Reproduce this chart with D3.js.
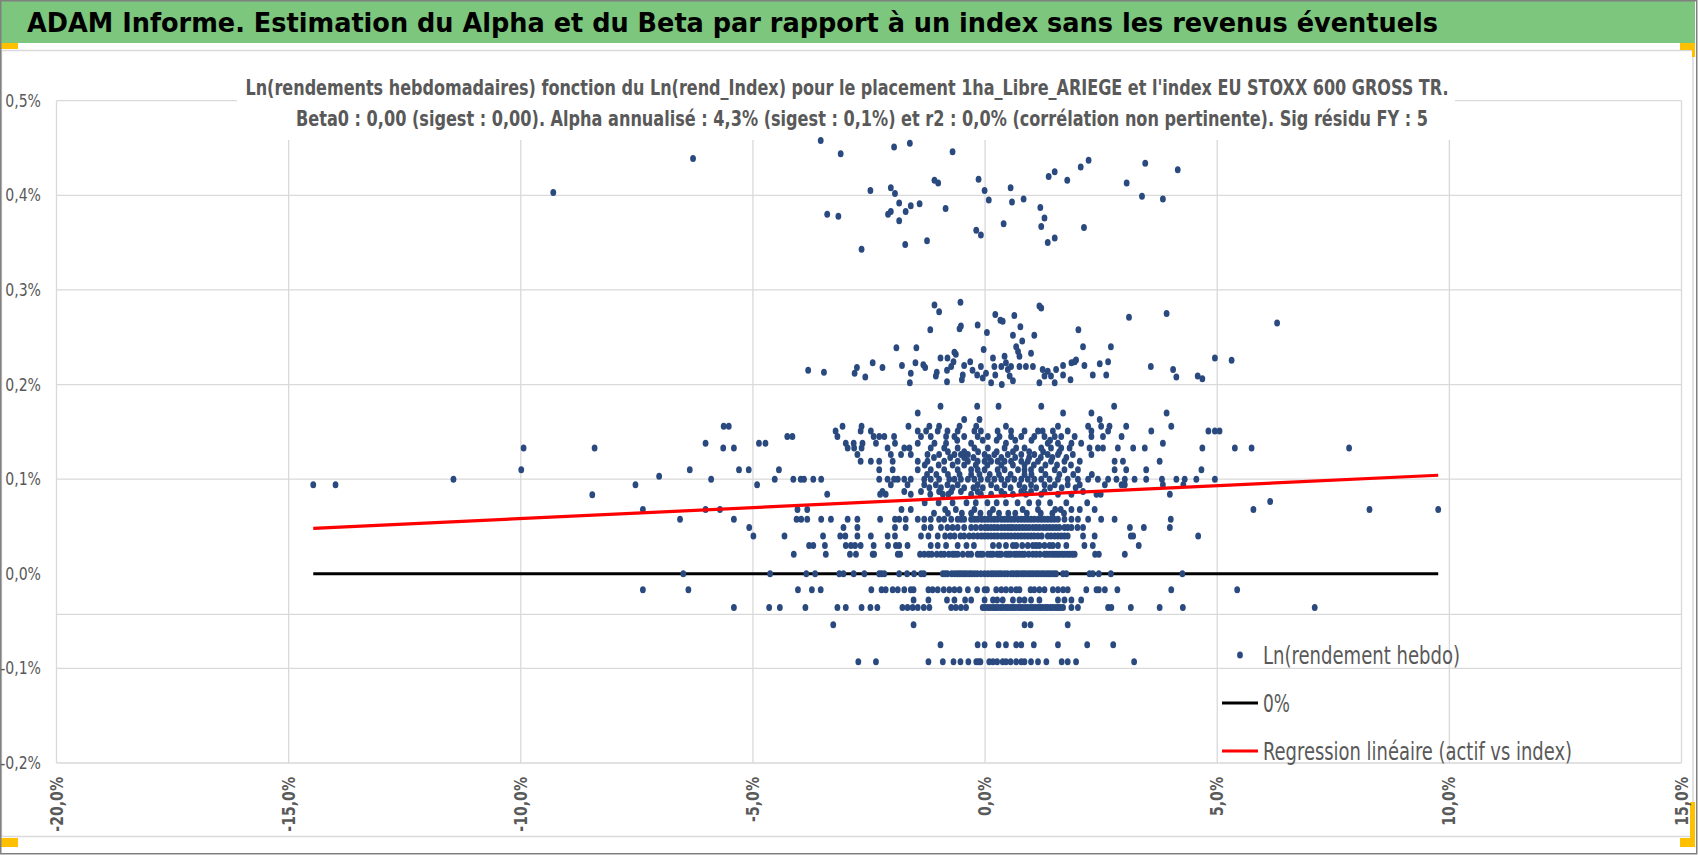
<!DOCTYPE html>
<html>
<head>
<meta charset="utf-8">
<script src="https://cdn.jsdelivr.net/npm/d3@7"></script>
<style>
  html, body { margin: 0; padding: 0; background: #fff; }
  svg { display: block; }
</style>
</head>
<body>
<div id="chart"></div>
<script>
//////////DATA//////////
const headerTitle = "ADAM Informe. Estimation du Alpha et du Beta par rapport à un index sans les revenus éventuels";
const chartTitle = [
  "Ln(rendements hebdomadaires) fonction du Ln(rend_Index) pour le placement 1ha_Libre_ARIEGE et l'index EU STOXX 600 GROSS TR.",
  "Beta0 : 0,00 (sigest : 0,00). Alpha annualisé : 4,3% (sigest : 0,1%) et r2 : 0,0% (corrélation non pertinente). Sig résidu FY : 5"
];
const legendLabels = ["Ln(rendement hebdo)", "0%", "Regression linéaire (actif vs index)"];

const xTicks = [-20, -15, -10, -5, 0, 5, 10, 15];           // % rend index
const yTicks = [-0.2, -0.1, 0, 0.1, 0.2, 0.3, 0.4, 0.5];     // % rend hebdo
const xAxisCross = -0.043;                                   // horizontal axis line

// regression (actif vs index), % units
const regAlpha = 0.0815;
const regBeta = 0.00232;

// weekly returns sit on discrete levels : level value (%) + index returns (%) on it
const bandLevels = [0, 0.0206, -0.017, -0.0276, -0.0357, -0.054, -0.075, -0.093,
  0.030, 0.040, 0.049, 0.0575, 0.068, 0.084, 0.087, 0.094, 0.100, 0.110, 0.119,
  0.126, 0.133, 0.138, 0.145, 0.151, 0.156, 0.163, 0.170, 0.177,
  0.064, 0.075, 0.091, 0.105, 0.115, 0.123, 0.129, 0.141];
const bandIndex = [
  [-6.50, -4.63, -3.85, -3.66, -3.14, -3.05, -2.83, -2.60, -2.28, -2.23, -2.17, -1.85, -1.68, -1.53, -1.38, -1.32, -0.91, -0.86, -0.81, -0.72, -0.66, -0.60, -0.55, -0.50, -0.45, -0.40, -0.34, -0.29, -0.23, -0.17, -0.09, -0.01, 0.06, 0.13, 0.18, 0.24, 0.30, 0.35, 0.42, 0.48, 0.56, 0.61, 0.67, 0.72, 0.78, 0.83, 0.88, 0.94, 0.99, 1.04, 1.10, 1.15, 1.21, 1.26, 1.32, 1.37, 1.42, 1.48, 1.53, 1.68, 1.75, 2.25, 2.32, 2.45, 2.71, 4.25],
  [-4.12, -3.43, -2.91, -2.78, -2.42, -2.39, -1.88, -1.83, -1.40, -1.31, -1.22, -1.15, -1.04, -0.95, -0.88, -0.78, -0.70, -0.65, -0.59, -0.48, -0.37, -0.30, -0.16, -0.10, -0.05, 0.06, 0.12, 0.17, 0.26, 0.31, 0.35, 0.45, 0.50, 0.55, 0.63, 0.68, 0.74, 0.80, 0.85, 0.94, 1.03, 1.10, 1.18, 1.28, 1.33, 1.39, 1.45, 1.50, 1.55, 1.60, 1.66, 1.71, 1.77, 1.82, 1.88, 1.93, 2.37, 2.45, 3.01],
  [-7.37, -6.39, -4.03, -3.73, -3.54, -2.45, -2.23, -2.14, -1.99, -1.88, -1.74, -1.60, -1.54, -1.22, -1.13, -1.02, -0.89, -0.77, -0.66, -0.55, -0.37, -0.17, -0.01, 0.04, 0.24, 0.35, 0.45, 0.56, 0.67, 0.74, 0.98, 1.06, 1.17, 1.28, 1.46, 1.57, 1.68, 1.78, 2.18, 2.40, 2.45, 2.58, 2.85, 4.01, 5.43],
  [-1.54, -1.22, -0.82, -0.66, -0.43, -0.30, -0.01, 0.17, 0.26, 0.38, 0.60, 0.74, 0.85, 0.99, 1.17, 1.57, 1.71, 1.86, 2.07],
  [-5.41, -4.65, -4.42, -3.87, -3.18, -3.00, -2.66, -2.47, -2.32, -1.78, -1.67, -1.56, -1.45, -1.32, -1.20, -0.73, -0.63, -0.52, -0.41, -0.05, 0.00, 0.06, 0.11, 0.17, 0.22, 0.27, 0.33, 0.38, 0.44, 0.49, 0.55, 0.60, 0.65, 0.71, 0.76, 0.81, 0.87, 0.92, 0.98, 1.03, 1.08, 1.14, 1.19, 1.24, 1.30, 1.35, 1.41, 1.46, 1.52, 1.57, 1.62, 1.68, 1.86, 2.00, 2.65, 2.72, 3.14, 3.76, 4.26, 7.10],
  [-3.27, -1.54, 0.85, 0.98, 1.78],
  [-0.96, -0.16, -0.01, 0.29, 0.45, 0.67, 0.78, 1.05, 1.57, 2.20, 2.76],
  [-2.73, -2.35, -1.22, -0.91, -0.68, -0.53, -0.36, -0.19, -0.14, -0.10, 0.09, 0.17, 0.26, 0.38, 0.45, 0.55, 0.67, 0.78, 0.85, 0.99, 1.14, 1.32, 1.65, 1.78, 1.96, 3.21],
  [-3.79, -3.70, -3.45, -3.00, -2.89, -2.80, -2.68, -2.40, -2.09, -1.92, -1.85, -1.67, -1.17, -1.02, -0.84, -0.59, -0.40, -0.24, 0.17, 0.30, 0.45, 0.60, 0.67, 0.80, 0.92, 1.03, 1.10, 1.17, 1.28, 1.39, 1.46, 1.57, 1.75, 2.14, 2.32, 3.31],
  [-4.99, -4.32, -3.49, -3.12, -3.01, -2.75, -2.46, -2.10, -1.94, -1.38, -1.22, -1.02, -0.86, -0.75, -0.66, -0.53, -0.45, -0.34, -0.25, -0.16, -0.08, -0.01, 0.06, 0.13, 0.20, 0.27, 0.35, 0.42, 0.49, 0.56, 0.64, 0.71, 0.78, 0.85, 0.92, 0.99, 1.06, 1.14, 1.22, 1.35, 1.42, 1.50, 1.57, 1.64, 1.71, 1.78, 2.11, 2.36, 3.14, 3.19, 4.59],
  [-5.08, -3.05, -2.75, -1.94, -1.71, -1.31, -1.17, -0.95, -0.81, -0.70, -0.59, -0.45, -0.30, -0.20, -0.09, 0.00, 0.06, 0.13, 0.20, 0.27, 0.35, 0.42, 0.49, 0.55, 0.60, 0.67, 0.74, 0.81, 0.88, 0.95, 1.03, 1.10, 1.17, 1.25, 1.32, 1.39, 1.46, 1.53, 1.60, 1.71, 1.78, 1.86, 1.99, 2.11, 3.12, 3.42, 3.98],
  [-6.57, -5.41, -4.06, -3.96, -3.83, -3.53, -3.32, -2.96, -2.75, -2.26, -1.94, -1.85, -1.71, -1.45, -1.31, -1.17, -0.99, -0.88, -0.73, -0.59, -0.52, -0.45, -0.30, -0.23, -0.16, -0.08, -0.01, 0.06, 0.13, 0.20, 0.27, 0.35, 0.42, 0.49, 0.56, 0.63, 0.71, 0.78, 0.85, 0.92, 0.99, 1.06, 1.14, 1.21, 1.28, 1.35, 1.42, 1.49, 1.57, 1.71, 1.86, 2.00, 2.22, 2.50, 2.79, 4.00],
  [-7.37, -6.02, -5.71, -4.04, -3.83, -1.80, -1.60, -0.86, -0.63, -0.23, 0.17, 0.81, 1.14, 1.51, 1.63, 1.86, 2.04, 2.36, 5.78, 8.28, 9.76],
  [-3.40, -2.26, -2.14, -1.60, -1.18, -0.91, -0.79, -0.30, -0.09, 0.13, 0.42, 0.60, 0.88, 1.21, 1.57, 1.86, 2.40, 2.49, 3.98],
  [-2.21, -1.74, -1.38, -0.99, -0.73, -0.52, -0.16, 0.35, 0.78, 0.99, 1.28, 2.11],
  [-14.47, -13.99, -7.53, -4.91, -2.03, -1.67, -1.31, -1.06, -0.81, -0.59, -0.16, 0.13, 0.42, 0.74, 0.99, 1.28, 1.50, 1.78, 2.04, 2.58, 2.94, 3.01, 3.83, 4.27],
  [-11.45, -5.90, -4.53, -4.13, -3.97, -3.90, -3.70, -3.53, -2.28, -2.10, -1.96, -1.88, -1.74, -1.60, -1.31, -1.17, -0.99, -0.77, -0.66, -0.52, -0.37, -0.23, -0.09, 0.06, 0.20, 0.35, 0.49, 0.63, 0.78, 0.92, 1.06, 1.21, 1.39, 1.57, 1.78, 2.00, 2.22, 2.43, 2.65, 2.83, 3.01, 3.22, 3.47, 3.81, 4.12, 4.30, 4.55, 4.95],
  [-9.99, -6.36, -5.30, -5.09, -4.44, -2.28, -1.99, -1.45, -1.17, -0.88, -0.59, -0.30, -0.16, -0.01, 0.27, 0.42, 0.71, 0.85, 0.99, 1.21, 1.50, 1.71, 2.00, 2.79, 3.04, 3.47, 4.66],
  [-2.68, -2.46, -2.28, -1.99, -1.45, -1.24, -0.88, -0.59, -0.37, -0.16, -0.01, 0.13, 0.27, 0.42, 0.56, 0.78, 0.92, 1.14, 1.42, 1.71, 2.04, 2.79, 2.97, 3.76],
  [-2.75, -2.03, -1.81, -1.60, -1.24, -0.99, -0.66, -0.52, -0.37, -0.01, 0.20, 0.49, 0.78, 1.06, 1.35, 1.57, 1.89, 2.29],
  [-9.94, -8.41, -5.64, -5.41, -2.96, -2.82, -2.66, -2.10, -1.74, -1.63, -1.17, -0.88, -0.59, -0.23, 0.06, 0.42, 0.67, 0.85, 1.21, 1.42, 1.64, 1.82, 2.25, 2.43, 2.54, 2.86, 3.19, 3.44, 4.68, 5.38, 5.74, 7.84],
  [-6.02, -4.87, -4.73, -3.00, -2.83, -2.64, -2.35, -1.94, -1.45, -1.09, -0.84, -0.30, 0.45, 1.35, 1.57, 1.86, 2.07, 3.83],
  [-4.26, -4.15, -3.18, -2.40, -2.28, -2.17, -1.96, -1.38, -1.17, -0.84, -0.66, -0.45, -0.16, 0.06, 0.31, 0.56, 0.78, 1.06, 1.28, 1.50, 1.64, 1.93, 2.29, 2.54, 2.94],
  [-3.22, -2.68, -2.46, -1.45, -1.27, -1.02, -0.81, -0.59, -0.23, -0.09, 0.27, 0.56, 0.85, 1.14, 1.24, 1.46, 1.78, 2.29, 2.65, 3.58, 4.81, 4.95, 5.05],
  [-5.63, -5.52, -3.07, -2.66, -1.65, -1.20, -0.99, -0.55, -0.19, 0.45, 1.57, 2.22, 2.50, 2.68, 3.04, 4.01],
  [-0.45, -0.12, 2.47],
  [-1.45, 1.68, 2.29, 3.91],
  [-0.96, -0.17, 0.29, 1.21, 2.78],
  [-1.10, -0.80, -0.50, -0.30, -0.10, 0.10, 0.30, 0.50, 0.65, 0.90, 1.20, 1.45, 1.70],
  [-1.30, -1.00, -0.70, -0.40, -0.20, 0.05, 0.25, 0.45, 0.70, 0.95, 1.15, 1.40, 1.75, 2.20],
  [-1.20, -0.95, -0.70, -0.45, -0.25, -0.05, 0.25, 0.55, 0.85, 1.10, 1.40, 1.65, 1.95],
  [-1.25, -1.05, -0.80, -0.55, -0.30, -0.12, 0.10, 0.30, 0.55, 0.85, 1.00, 1.30, 1.60, 1.90, 2.30],
  [-1.30, -1.00, -0.70, -0.45, -0.20, 0.05, 0.35, 0.60, 0.85, 1.05, 1.30, 1.55, 1.85],
  [-1.10, -0.75, -0.45, -0.25, 0.08, 0.35, 0.65, 0.95, 1.20, 1.45, 1.75],
  [-0.80, -0.45, -0.15, 0.25, 0.60, 0.95, 1.25, 1.60],
  [-0.60, -0.05, 0.25, 0.65, 1.00, 1.40]
];

// off-level weeks : index return (%) and asset return (%)
const freeIndex = [-8.46, -7.02, 6.14, 6.29, 4.95, 5.31, -9.30,
  -6.29, -3.54, -3.11, -1.96, -1.62, -0.70, 2.23, 2.06, 3.45, 4.15, 1.50, 1.37, 1.77, -0.14, -1.09, -1.01, 3.05, 3.38, 3.83,
  -2.47, -2.03, -1.94, -0.01, 0.55, 0.08, 0.58, 0.83, -1.85, -1.60, -1.41, -1.71, -2.03, -2.09, -0.85, 1.19, 1.28, 1.21,
  -3.40, -3.16, -1.85, 0.40, 2.13, -0.19, -0.09, -1.72, -1.25, 1.50, 1.35, -2.66,
  -1.09, -0.99, -0.53, 0.22, 0.33, 0.38, 0.63, 1.17, 1.21, 3.10, 3.91, -1.18, -0.55, -0.52, -0.16, 0.04, 0.76, 0.60, 0.80, 1.06, 2.01,
  -1.91, -1.48, -0.66, -0.63, -0.03, 0.67, 0.71, 0.99, 2.11, 2.71, 0.74,
  -3.81, -3.47, -2.76, -2.81, -2.58, -2.42, -2.21, -1.79, -1.60, -1.62, -1.50, -1.33, -1.29, -1.04, -1.06, -0.96, -0.81, -0.82, -0.82,
  -0.73, -0.68, -0.48, -0.50, -0.45, -0.32, -0.27, -0.17, -0.09, -0.05, 0.02, 0.13, 0.17, 0.20, 0.22, 0.35, 0.36, 0.42, 0.45, 0.49,
  0.53, 0.56, 0.60, 0.74, 0.88, 1.03, 1.17, 1.24, 1.28, 1.35, 1.42, 1.50, 1.53, 1.68, 1.68, 1.86, 1.93, 1.96, 1.84, 2.14, 2.32,
  2.47, 2.61, 2.65, 3.57, 4.05, 4.12, 4.58, 4.68];
const freeAsset = [0.0835, 0.103, 0.0765, 0.265, 0.228, 0.2256, 0.403,
  0.439, 0.458, 0.444, 0.451, 0.455, 0.446, 0.437, 0.430, 0.434, 0.427, 0.425, 0.420, 0.416, 0.417, 0.416, 0.413, 0.413, 0.399, 0.396,
  0.405, 0.408, 0.402, 0.405, 0.408, 0.395, 0.393, 0.396, 0.392, 0.389, 0.391, 0.383, 0.383, 0.380, 0.386, 0.387, 0.376, 0.367,
  0.380, 0.378, 0.373, 0.370, 0.366, 0.363, 0.358, 0.348, 0.352, 0.355, 0.350, 0.343,
  0.284, 0.277, 0.287, 0.274, 0.268, 0.267, 0.273, 0.283, 0.281, 0.271, 0.275, 0.258, 0.259, 0.262, 0.263, 0.255, 0.261, 0.252, 0.246, 0.252, 0.258,
  0.239, 0.239, 0.234, 0.232, 0.237, 0.240, 0.235, 0.233, 0.240, 0.240, 0.230,
  0.215, 0.213, 0.218, 0.212, 0.208, 0.223, 0.218, 0.220, 0.212, 0.202, 0.223, 0.221, 0.218, 0.213, 0.209, 0.228, 0.228, 0.215, 0.203,
  0.219, 0.224, 0.210, 0.205, 0.220, 0.224, 0.215, 0.210, 0.219, 0.207, 0.212, 0.202, 0.228, 0.219, 0.210, 0.219, 0.200, 0.230, 0.223, 0.216,
  0.209, 0.219, 0.204, 0.219, 0.219, 0.219, 0.202, 0.216, 0.209, 0.214, 0.209, 0.202, 0.216, 0.220, 0.210, 0.223, 0.224, 0.226, 0.205, 0.220, 0.210,
  0.222, 0.210, 0.224, 0.219, 0.216, 0.208, 0.209, 0.206];

//////////CODE//////////
const svgObj = { width: 1698, height: 855 };
const font = "'Liberation Sans Narrow', 'DejaVu Sans Condensed', 'Arial Narrow', sans-serif";
const textGrey = "#595959";
const gridGrey = "#d9d9d9";
const dotColor = "#2a4a7f";

const plot = { left: 56.5, right: 1681.5, top: 100.7, bottom: 763 };

const points = [];
bandLevels.forEach((lvl, i) => {
  bandIndex[i].forEach((x) => points.push([x, lvl]));
});
freeIndex.forEach((x, i) => points.push([x, freeAsset[i]]));

const xScale = d3.scaleLinear().domain([xTicks[0], xTicks[xTicks.length - 1]]).range([plot.left, plot.right]);
const yScale = d3.scaleLinear().domain([yTicks[0], yTicks[yTicks.length - 1]]).range([plot.bottom, plot.top]);
const pct = (v) => v.toFixed(1).replace(".", ",").replace("-0,0", "0,0") + "%";

// squeeze text to a width (the original font is much narrower than the fallback)
const fitWidth = (sel, w) => sel.attr("textLength", w).attr("lengthAdjust", "spacingAndGlyphs");
const squeeze = (sel, k) => sel.each(function () {
  d3.select(this)
    .attr("textLength", this.getComputedTextLength() * k)
    .attr("lengthAdjust", "spacingAndGlyphs");
});

const svg = d3.select("#chart").append("svg")
  .attr("width", svgObj.width)
  .attr("height", svgObj.height)
  .style("font-family", font);

// header band
svg.append("rect").attr("x", 1).attr("y", 1).attr("width", 1694).attr("height", 42).attr("fill", "#7dc67d");
svg.append("text")
  .attr("x", 27).attr("y", 32)
  .attr("font-size", 26).attr("font-weight", "bold").attr("fill", "#000")
  .text(headerTitle)
  .call(fitWidth, 1411);

// chart area border
svg.append("rect").attr("x", 1.5).attr("y", 50.5).attr("width", 1691.5).attr("height", 786)
  .attr("fill", "none").attr("stroke", gridGrey).attr("stroke-width", 1.5);

// yellow corner marks
const marks = [[1, 43, 17, 6], [1680, 43, 15, 7], [1692, 43, 3, 14], [1, 838, 17, 9], [1690, 802, 5, 45], [1680, 838, 15, 9]];
marks.forEach((m) => {
  svg.append("rect").attr("x", m[0]).attr("y", m[1]).attr("width", m[2]).attr("height", m[3]).attr("fill", "#ffc000");
});

// outer frame
svg.append("rect").attr("x", 0.75).attr("y", 0.75).attr("width", 1696).attr("height", 853)
  .attr("fill", "none").attr("stroke", "#808080").attr("stroke-width", 1.5);

// grid
const grid = svg.append("g").attr("stroke", gridGrey).attr("stroke-width", 1.3);
xTicks.forEach((t) => {
  grid.append("line").attr("x1", xScale(t)).attr("x2", xScale(t)).attr("y1", plot.top).attr("y2", plot.bottom);
});
yTicks.filter((t) => t !== 0).forEach((t) => {
  grid.append("line").attr("x1", plot.left).attr("x2", plot.right).attr("y1", yScale(t)).attr("y2", yScale(t));
});
grid.append("line").attr("x1", plot.left).attr("x2", plot.right)
  .attr("y1", yScale(xAxisCross)).attr("y2", yScale(xAxisCross));

// axis labels
svg.append("g").selectAll("text").data(yTicks).join("text")
  .attr("x", 41).attr("y", (d) => yScale(d))
  .attr("text-anchor", "end").attr("dominant-baseline", "central")
  .attr("font-size", 17).attr("fill", textGrey)
  .text((d) => pct(d))
  .call(squeeze, 0.92);

svg.append("g").selectAll("text").data(xTicks).join("text")
  .attr("transform", (d) => `translate(${xScale(d)}, 777) rotate(-90)`)
  .attr("text-anchor", "end").attr("dominant-baseline", "central")
  .attr("font-size", 17).attr("font-weight", "bold").attr("fill", textGrey)
  .text((d) => pct(d))
  .call(squeeze, 0.92);

// chart title (white box over the grid)
svg.append("rect").attr("x", 237).attr("y", 56).attr("width", 1218).attr("height", 84).attr("fill", "#fff");
const titleCenters = [847, 862];
const titleWidths = [1203, 1132];
chartTitle.forEach((line, i) => {
  svg.append("text")
    .attr("x", titleCenters[i]).attr("y", 95 + i * 31)
    .attr("text-anchor", "middle")
    .attr("font-size", 21).attr("font-weight", "bold").attr("fill", textGrey)
    .text(line)
    .call(fitWidth, titleWidths[i]);
});

// series
const xExtent = d3.extent(points, (d) => d[0]);

svg.append("line")
  .attr("x1", xScale(xExtent[0])).attr("x2", xScale(xExtent[1]))
  .attr("y1", yScale(0)).attr("y2", yScale(0))
  .attr("stroke", "#000").attr("stroke-width", 3.2);

svg.append("g").selectAll("ellipse").data(points).join("ellipse")
  .attr("cx", (d) => xScale(d[0])).attr("cy", (d) => yScale(d[1]))
  .attr("rx", 2.9).attr("ry", 3.5)
  .attr("fill", dotColor);

svg.append("line")
  .attr("x1", xScale(xExtent[0])).attr("x2", xScale(xExtent[1]))
  .attr("y1", yScale(regAlpha + regBeta * xExtent[0])).attr("y2", yScale(regAlpha + regBeta * xExtent[1]))
  .attr("stroke", "#ff0000").attr("stroke-width", 3.2);

// legend
const legend = svg.append("g").attr("transform", "translate(1222, 655)");
legend.append("ellipse").attr("cx", 18).attr("cy", 0).attr("rx", 2.9).attr("ry", 3.5).attr("fill", dotColor);
legend.append("line").attr("x1", 0).attr("x2", 36).attr("y1", 48).attr("y2", 48).attr("stroke", "#000").attr("stroke-width", 3.2);
legend.append("line").attr("x1", 0).attr("x2", 36).attr("y1", 96).attr("y2", 96).attr("stroke", "#ff0000").attr("stroke-width", 3.2);
const legendWidths = [197, 27, 309];
legendLabels.forEach((lbl, i) => {
  legend.append("text")
    .attr("x", 41).attr("y", i * 48)
    .attr("dominant-baseline", "central")
    .attr("font-size", 25).attr("fill", textGrey)
    .text(lbl)
    .call(fitWidth, legendWidths[i]);
});
</script>
</body>
</html>
